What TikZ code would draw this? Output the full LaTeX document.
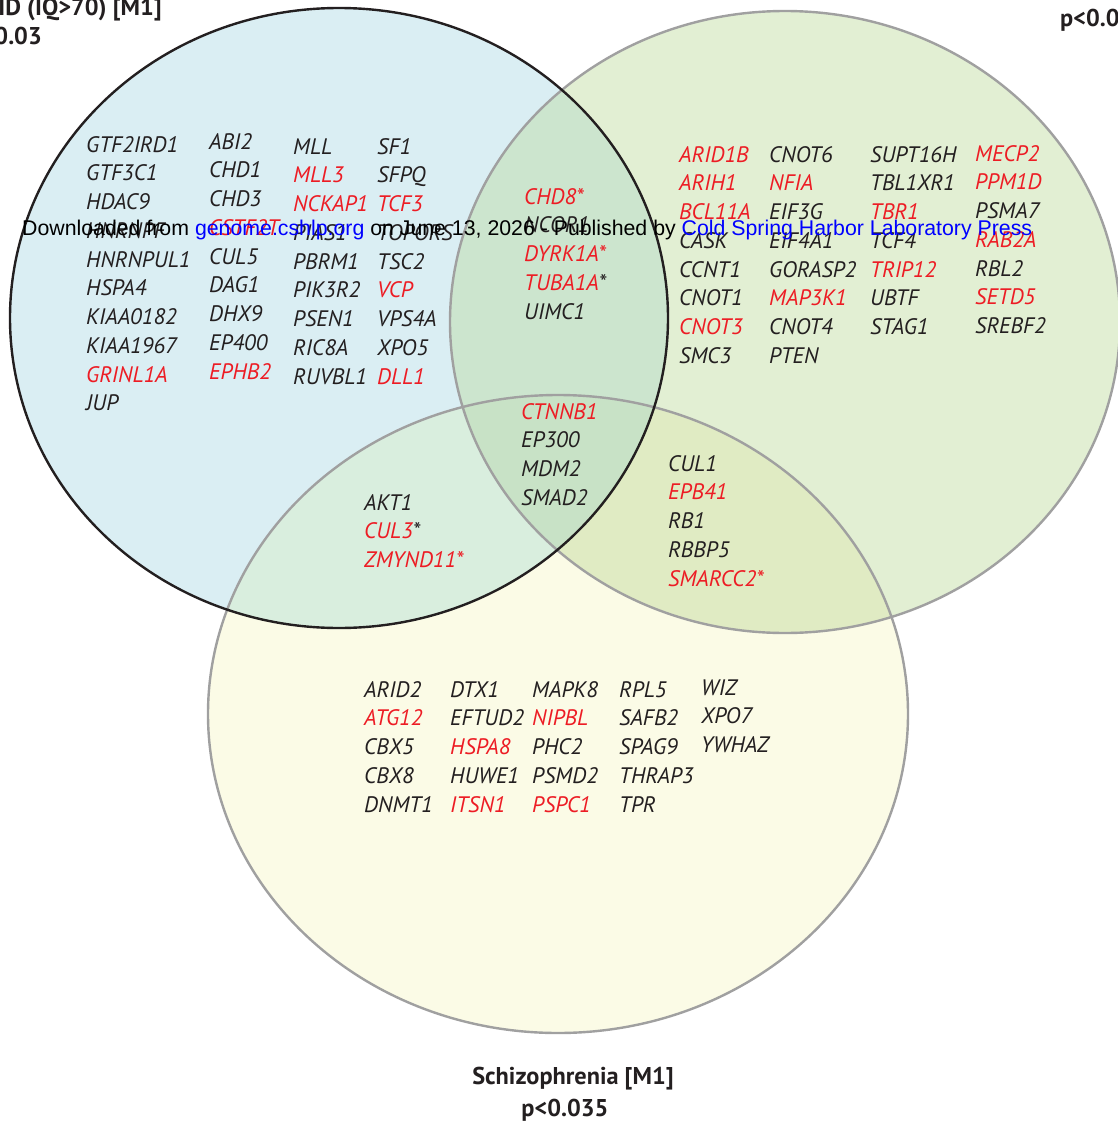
\documentclass[tikz,border=0pt]{standalone}
\usepackage{fontspec}
\setmainfont{PT Sans}
\newfontfamily\wmfont{Liberation Sans}
\definecolor{cL}{HTML}{DAEEF3}
\definecolor{cR}{HTML}{E2EFD3}
\definecolor{cB}{HTML}{FBFBE6}
\definecolor{cLR}{HTML}{CCE5CE}
\definecolor{cLB}{HTML}{D9EEDE}
\definecolor{cRB}{HTML}{E0EBC3}
\definecolor{cLRB}{HTML}{C8E2C6}
\definecolor{gred}{HTML}{ED1C24}
\definecolor{gblack}{HTML}{231F20}
\definecolor{ringgray}{HTML}{A0A0A0}
\definecolor{wmblue}{HTML}{0000FF}
\newcommand\rd[1]{\textcolor{gred}{#1}}
\newcommand\genecol[4]{%
  \foreach \t [count=\i] in {#4} {\node[gene] (#1\i) at (#2, {#3+(\i-1)*28.75}) {\t};}}
\def\Lshape{(339,318) ellipse [x radius=329pt, y radius=310pt]}
\def\Rshape{(785,322) ellipse [x radius=335pt, y radius=311pt]}
\def\Bshape{(558,714) ellipse [x radius=350pt, y radius=319pt]}
\tikzset{
  gene/.style={anchor=base west, inner sep=0pt, font=\fontsize{22.4}{22.4}\selectfont\itshape, text=gblack},
  title/.style={inner sep=0pt, font=\fontsize{24.3}{24.3}\selectfont\bfseries, text=gblack},
  graysetline/.style={draw=ringgray, line width=2.4pt},
  blacksetline/.style={draw=gblack, line width=2.4pt}
}
\begin{document}
\begin{tikzpicture}[x=1pt,y=-1pt]
\useasboundingbox (0,0) rectangle (1118,1124);
\fill[white] (0,0) rectangle (1118,1124);
% fills
\fill[cR] \Rshape;
\fill[cB] \Bshape;
\fill[cL] \Lshape;
\begin{scope}
  \clip \Lshape;
  \fill[cLR] \Rshape;
  \fill[cLB] \Bshape;
\end{scope}
\begin{scope}
  \clip \Rshape;
  \fill[cRB] \Bshape;
\end{scope}
\begin{scope}
  \clip \Lshape;
  \clip \Rshape;
  \fill[cLRB] \Bshape;
\end{scope}
% outlines
\path[graysetline] \Rshape;
\path[graysetline] \Bshape;
\path[blacksetline] \Lshape;
% titles
\node[title, anchor=base east] (tL1) at (162,16) {ID (IQ>70) [M1]};
\node[title, anchor=base east] (tL2) at (42,45) {0.03};
\node[title, anchor=base west] (tR2) at (1060,27) {p<0.0};
\node[title, anchor=base] (tB1) at (573,1084) {Schizophrenia [M1]};
\node[title, anchor=base] (tB2) at (565,1116) {p<0.035};
% left only
\genecol{La}{86}{152}{GTF2IRD1,GTF3C1,HDAC9,HNRNPF,HNRNPUL1,HSPA4,KIAA0182,KIAA1967,\rd{GRINL1A},JUP}
\genecol{Lb}{209}{149}{ABI2,CHD1,CHD3,\rd{CSTF2T},CUL5,DAG1,DHX9,EP400,\rd{EPHB2}}
\genecol{Lc}{293}{154}{MLL,\rd{MLL3},\rd{NCKAP1},PIAS1,PBRM1,PIK3R2,PSEN1,RIC8A,RUVBL1}
\genecol{Ld}{377}{154}{SF1,SFPQ,\rd{TCF3},TOPORS,TSC2,\rd{VCP},VPS4A,XPO5,\rd{DLL1}}
% left and right
\genecol{LR}{524}{204}{\rd{CHD8*},NCOR1,\rd{DYRK1A*},\rd{TUBA1A}*,UIMC1}
% right only
\genecol{Ra}{679}{162}{\rd{ARID1B},\rd{ARIH1},\rd{BCL11A},CASK,CCNT1,CNOT1,\rd{CNOT3},SMC3}
\genecol{Rb}{769}{162}{CNOT6,\rd{NFIA},EIF3G,EIF4A1,GORASP2,\rd{MAP3K1},CNOT4,PTEN}
\genecol{Rc}{870}{162}{SUPT16H,TBL1XR1,\rd{TBR1},TCF4,\rd{TRIP12},UBTF,STAG1}
\genecol{Rd}{975}{161}{\rd{MECP2},\rd{PPM1D},PSMA7,\rd{RAB2A},RBL2,\rd{SETD5},SREBF2}
% all three
\genecol{LRB}{521}{419}{\rd{CTNNB1},EP300,MDM2,SMAD2}
% left and bottom
\genecol{LB}{364}{510}{AKT1,\rd{CUL3}*,\rd{ZMYND11*}}
% right and bottom
\genecol{RB}{668}{471}{CUL1,\rd{EPB41},RB1,RBBP5,\rd{SMARCC2*}}
% bottom only
\genecol{Ba}{364}{697}{ARID2,\rd{ATG12},CBX5,CBX8,DNMT1}
\genecol{Bb}{450}{697}{DTX1,EFTUD2,\rd{HSPA8},HUWE1,\rd{ITSN1}}
\genecol{Bc}{532}{697}{MAPK8,\rd{NIPBL},PHC2,PSMD2,\rd{PSPC1}}
\genecol{Bd}{619}{697}{RPL5,SAFB2,SPAG9,THRAP3,TPR}
\genecol{Be}{701}{695}{WIZ,XPO7,YWHAZ}
% watermark
\node[anchor=base west, inner sep=0pt, font=\wmfont\fontsize{21.3}{21.3}\selectfont, text=black] (wm) at (22,235)
  {Downloaded from \textcolor{wmblue}{genome.cshlp.org} on June 13, 2026 - Published by \textcolor{wmblue}{Cold Spring Harbor Laboratory Press}};
\end{tikzpicture}
\end{document}
